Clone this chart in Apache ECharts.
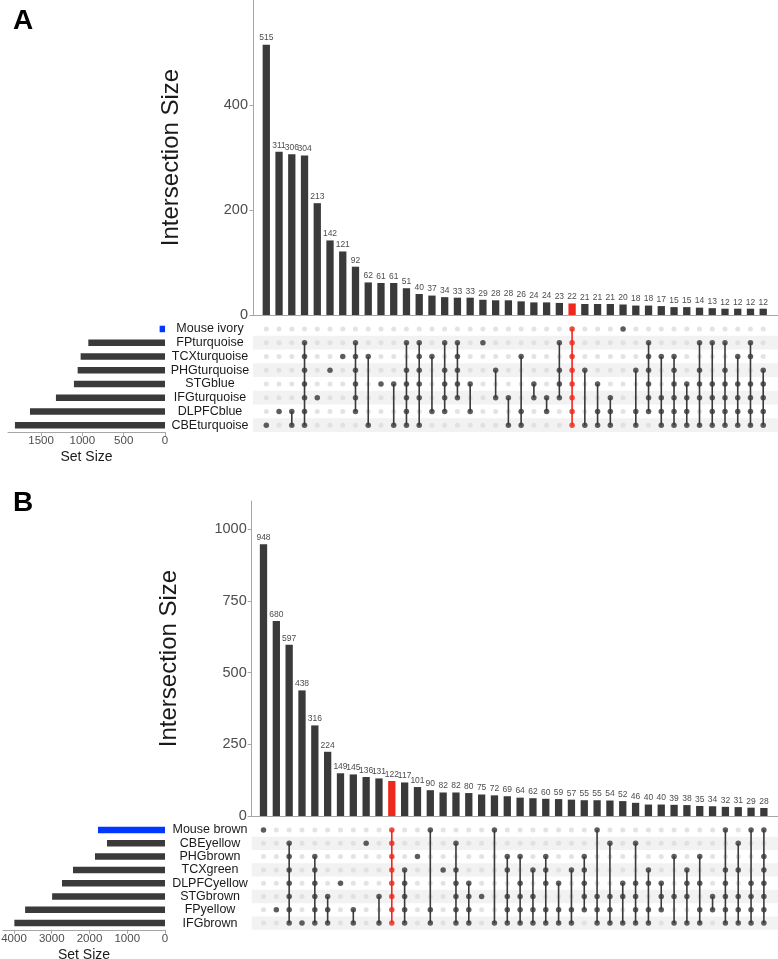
<!DOCTYPE html>
<html><head><meta charset="utf-8">
<script src="https://cdn.jsdelivr.net/npm/echarts@6/dist/echarts.min.js"></script>
<style>html,body{margin:0;padding:0;background:#fff}#c{width:778px;height:959px}</style>
</head><body><div id="c"></div>
<script>
// ---------- Panel A data ----------
const setsA = ['Mouse ivory','FPturquoise','TCXturquoise','PHGturquoise','STGblue','IFGturquoise','DLPFCblue','CBEturquoise'];
const setSizeA = [65, 928, 1021, 1057, 1102, 1320, 1634, 1816];
const interA = [515,311,306,304,213,142,121,92,62,61,61,51,40,37,34,33,33,29,28,28,26,24,24,23,22,21,21,21,20,18,18,17,15,15,14,13,12,12,12,12];
const membersA = [[7],[6],[6,7],[1,2,3,4,5,6,7],[5],[3],[2],[1,2,3,4,5,6],[2,7],[4],
  [4,7],[1,3,4,5,6,7],[1,2,3,4,5,7],[2,6],[1,3,4,5,6],[1,2,3,4,5],[4,6],[1],[3,5],[5,7],
  [2,6,7],[4,5],[5,6],[1,3,4,5],[0,1,2,3,4,5,6,7],[3,7],[4,6,7],[5,6,7],[0],[3,6,7],
  [1,2,3,4,5,6],[2,5,6,7],[2,3,4,5,6,7],[4,5,6,7],[1,3,4,5,7],[1,4,5,6,7],[1,3,4,5,6,7],[2,4,5,6,7],[1,2,4,5,6,7],[3,4,5,6,7]];
const highlightA = 24;
const yTicksA = [0,200,400];
const ssTicksA = [0,500,1000,1500];

// ---------- Panel B data ----------
const setsB = ['Mouse brown','CBEyellow','PHGbrown','TCXgreen','DLPFCyellow','STGbrown','FPyellow','IFGbrown'];
const setSizeB = [1775, 1536, 1854, 2437, 2728, 2990, 3705, 3990];
const interB = [948,680,597,438,316,224,149,145,136,131,122,117,101,90,82,82,80,75,72,69,64,62,60,59,57,55,55,54,52,46,40,40,39,38,35,34,32,31,29,28];
const membersB = [[0],[6],[1,2,3,4,5,6,7],[7],[2,3,4,5,6,7],[5,6,7],[4],[6,7],[1],[5,7],
  [0,1,2,3,4,5,6,7],[3,4,5,6,7],[2],[0,6,7],[3],[1,3,4,5,6,7],[4,5,6,7],[5],[0,7],[2,3,5,6,7],
  [2,4,5,6,7],[3,5,6,7],[2,3,4,6,7],[4,6,7],[3,6,7],[2,3,4,5,6],[0,5,6,7],[1,5,6,7],[4,5,7],[1,4,5,6,7],
  [3,4,6,7],[4,5,6],[2,5,7],[3,4,5,7],[2,4,6,7],[5,6],[0,3,4,5,6,7],[1,3,5,6,7],[0,4,5,6,7],[0,2,3,4,5,6,7]];
const highlightB = 10;
const yTicksB = [0,250,500,750,1000];
const ssTicksB = [0,1000,2000,3000,4000];

const FONT = '"Liberation Sans", Arial, sans-serif';
const DARK = '#3a3a3a', RED = '#f0281c', BLUE = '#0038ff', GREYDOT = '#dcdcdc', AXIS = '#a6a6a6';
const grids = [], xAxes = [], yAxes = [], series = [];
const plain = v => String(v);

function panel(p){
  const g0 = grids.length, xa0 = xAxes.length, ya0 = yAxes.length;
  const gbase = {containLabel:false, outerBoundsMode:'none'};
  grids.push(Object.assign({left:p.left, top:p.barTop, width:778-p.left, height:p.barH}, gbase));
  grids.push(Object.assign({left:p.left, top:p.matTop, width:778-p.left, height:p.matH}, gbase));
  grids.push(Object.assign({left:p.ssLeft, top:p.matTop, width:165-p.ssLeft, height:p.matH}, gbase));
  xAxes.push({gridIndex:g0, type:'value', min:p.xMin, max:p.xMax, axisLine:{show:true,lineStyle:{color:AXIS,width:1}}, axisTick:{show:false}, axisLabel:{show:false}, splitLine:{show:false}});
  xAxes.push({gridIndex:g0+1, type:'value', min:p.xMin, max:p.xMax, show:false, splitLine:{show:false}});
  xAxes.push({gridIndex:g0+2, type:'value', inverse:true, min:0, max:p.ssMax,
    axisLine:{show:true,lineStyle:{color:AXIS}}, axisTick:{show:true, customValues:p.ssTicks, length:4, lineStyle:{color:AXIS}},
    axisLabel:{customValues:p.ssTicks, formatter:plain, fontSize:11.5, color:'#4d4d4d', fontFamily:FONT, margin:3, showMinLabel:true, showMaxLabel:true}, splitLine:{show:false},
    name:'Set Size', nameLocation:'middle', nameGap:18, nameTextStyle:{fontSize:14, color:'#1a1a1a', fontFamily:FONT}});
  yAxes.push({gridIndex:g0, type:'value', min:0, max:p.yMax,
    axisLine:{show:true,lineStyle:{color:AXIS}}, axisTick:{show:true, customValues:p.yTicks, length:4, lineStyle:{color:AXIS}},
    axisLabel:{customValues:p.yTicks, formatter:plain, fontSize:14.5, color:'#4d4d4d', fontFamily:FONT, margin:5}, splitLine:{show:false},
    name:'Intersection Size', nameLocation:'middle', nameGap:70, nameTextStyle:{fontSize:24, color:'#1a1a1a', fontFamily:FONT}});
  yAxes.push({gridIndex:g0+1, type:'category', data:p.sets, inverse:true, axisLine:{show:false}, axisTick:{show:false}, axisLabel:{show:false}, splitLine:{show:false},
    splitArea:{show:true, interval:0, areaStyle:{color:['rgba(255,255,255,0)','#f2f2f2']}}});
  yAxes.push({gridIndex:g0+2, type:'category', data:p.sets, inverse:true, position:'right', axisLine:{show:false}, axisTick:{show:false},
    axisLabel:{interval:0, align:'center', margin:45, fontSize:12.5, color:'#1a1a1a', fontFamily:FONT}});
  series.push({type:'bar', xAxisIndex:xa0, yAxisIndex:ya0, barWidth:7.3,
    data:p.inter.map((v,i)=>({value:[i+1,v], itemStyle:{color:i===p.hl?RED:DARK}})),
    label:{show:true, position:'top', distance:2, fontSize:8.5, color:'#4d4d4d', fontFamily:FONT, formatter:d=>d.value[1]}});
  const grey = [];
  p.inter.forEach((v,i)=>p.sets.forEach(s=>grey.push([i+1,s])));
  series.push({type:'scatter', xAxisIndex:xa0+1, yAxisIndex:ya0+1, symbolSize:5, itemStyle:{color:GREYDOT}, data:grey, z:2, silent:true});
  p.members.forEach((m,i)=>{
    if(m.length>1){
      const lo=Math.min(...m), hi=Math.max(...m);
      series.push({type:'line', xAxisIndex:xa0+1, yAxisIndex:ya0+1, symbol:'none', silent:true, z:3,
        lineStyle:{color:i===p.hl?RED:DARK, width:1.6}, data:[[i+1,p.sets[lo]],[i+1,p.sets[hi]]]});
    }
  });
  const dark = [];
  p.members.forEach((m,i)=>m.forEach(j=>dark.push({value:[i+1,p.sets[j]], itemStyle:{color:i===p.hl?RED:DARK}})));
  series.push({type:'scatter', xAxisIndex:xa0+1, yAxisIndex:ya0+1, symbolSize:5.5, data:dark, z:4, silent:true});
  series.push({type:'bar', xAxisIndex:xa0+2, yAxisIndex:ya0+2, barWidth:6.5,
    data:p.sizes.map((v,j)=>({value:v, itemStyle:{color:j===0?BLUE:DARK}}))});
}

panel({sets:setsA, sizes:setSizeA, inter:interA, members:membersA, hl:highlightA,
  left:253, xMin:-0.044, xMax:41.16, barTop:0, barH:315, yMax:600, yTicks:yTicksA,
  matTop:322.1, matH:110, ssLeft:8, ssMax:1900, ssTicks:ssTicksA});
panel({sets:setsB, sizes:setSizeB, inter:interB, members:membersB, hl:highlightB,
  left:251.7, xMin:0.08, xMax:41.1, barTop:501, barH:315, yMax:1098.6, yTicks:yTicksB,
  matTop:823.35, matH:106.4, ssLeft:3, ssMax:4291, ssTicks:ssTicksB});

const chart = echarts.init(document.getElementById('c'));
chart.setOption({
  animation:false,
  backgroundColor:'#fff',
  title:[
    {text:'A', left:8, top:2, textStyle:{fontSize:28, fontWeight:'bold', color:'#000', fontFamily:FONT}},
    {text:'B', left:8, top:484, textStyle:{fontSize:28, fontWeight:'bold', color:'#000', fontFamily:FONT}}
  ],
  grid:grids, xAxis:xAxes, yAxis:yAxes, series:series
});
</script></body></html>
